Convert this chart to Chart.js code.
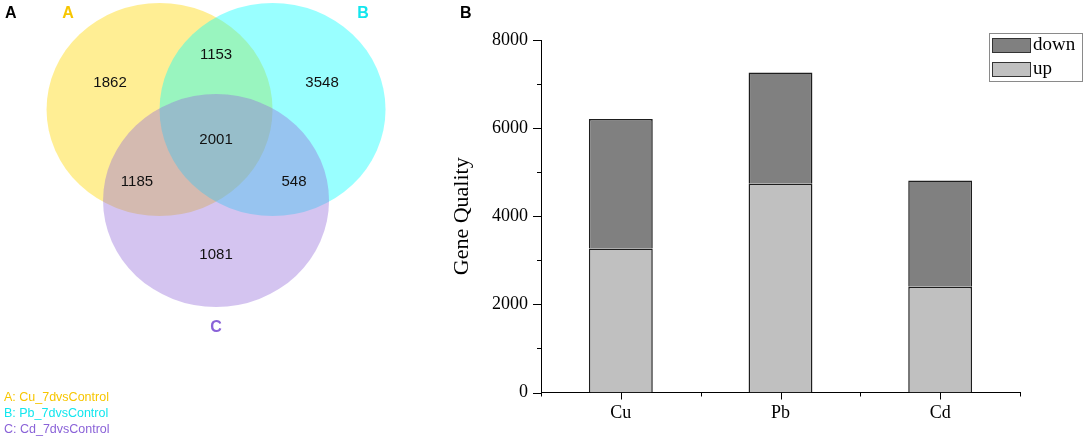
<!DOCTYPE html>
<html>
<head>
<meta charset="utf-8">
<title>Venn diagram and up/down gene counts</title>
<script src="https://cdn.jsdelivr.net/npm/chart.js@4.4.1/dist/chart.umd.min.js"></script>
<style>
  body { margin: 0; background: #fff; width: 1084px; height: 440px; position: relative; overflow: hidden; }
  .panel { position: absolute; top: 0; }
  .tag { position: absolute; font: bold 16px "Liberation Sans", Arial, sans-serif; color: #000; }
  .venn-key { position: absolute; left: 4px; font: 12.5px "Liberation Sans", Arial, sans-serif; line-height: 16px; }
</style>
</head>
<body>

<div class="panel" style="left:0;width:440px;height:440px;">
  <canvas id="vennChart" width="440" height="440"></canvas>
</div>
<div class="panel" style="left:440px;width:644px;height:440px;">
  <canvas id="barChart" width="644" height="440"></canvas>
</div>

<div class="tag" style="left:5px;top:4px;">A</div>
<div class="tag" style="left:460px;top:4px;">B</div>
<div id="vennKey" class="venn-key" style="top:389px;"></div>

<script>
/* ---- data ---- */
const vennSets = ['A', 'B', 'C'];
const vennSetNames = ['Cu_7dvsControl', 'Pb_7dvsControl', 'Cd_7dvsControl'];
const vennRegions = ['A only', 'A∩B', 'B only', 'A∩B∩C', 'A∩C', 'B∩C', 'C only'];
const vennCounts = [1862, 1153, 3548, 2001, 1185, 548, 1081];

const groups = ['Cu', 'Pb', 'Cd'];
const upCounts = [3270, 4735, 2400];
const downCounts = [2935, 2525, 2410];
const yTickValues = [0, 2000, 4000, 6000, 8000];

/* ---- venn layout (unit circles, equilateral) ---- */
const VENN = {
  centers: [[-0.5, 0], [0.5, 0], [0, -0.855]],
  radius: 1,
  fills: ['rgba(255,215,0,0.42)', 'rgba(0,255,255,0.40)', 'rgba(148,108,218,0.40)'],
  setColors: ['#f7c600', '#12e6ee', '#8a62d8'],
  setLabelPos: [[-1.31, 0.9], [1.30, 0.9], [0, -2.05]],
  regionPos: [[-0.938, 0.25], [0, 0.512], [0.938, 0.25], [0, -0.286], [-0.70, -0.683], [0.69, -0.683], [0, -1.366]]
};

document.getElementById('vennKey').innerHTML = vennSets.map((s, i) =>
  `<div style="color:${VENN.setColors[i]};">${s}: ${vennSetNames[i]}</div>`).join('');

const vennPlugin = {
  id: 'vennCircles',
  beforeDatasetsDraw(chart) {
    const { ctx, scales: { x, y } } = chart;
    ctx.save();
    VENN.centers.forEach((c, i) => {
      const px = x.getPixelForValue(c[0]), py = y.getPixelForValue(c[1]);
      const rx = Math.abs(x.getPixelForValue(c[0] + VENN.radius) - px);
      const ry = Math.abs(y.getPixelForValue(c[1] + VENN.radius) - py);
      ctx.beginPath();
      ctx.ellipse(px, py, rx, ry, 0, 0, Math.PI * 2);
      ctx.fillStyle = VENN.fills[i];
      ctx.fill();
    });
    ctx.restore();
  },
  afterDatasetsDraw(chart) {
    const { ctx, scales: { x, y } } = chart;
    ctx.save();
    ctx.textAlign = 'center';
    ctx.textBaseline = 'middle';
    // region counts, anchored on dataset points
    ctx.font = '15px "Liberation Sans", Arial, sans-serif';
    ctx.fillStyle = '#111';
    chart.getDatasetMeta(0).data.forEach((pt, i) => {
      ctx.fillText(String(vennCounts[i]), pt.x, pt.y);
    });
    // set letters
    ctx.font = 'bold 16px "Liberation Sans", Arial, sans-serif';
    vennSets.forEach((s, i) => {
      const p = VENN.setLabelPos[i];
      ctx.fillStyle = VENN.setColors[i];
      ctx.fillText(s, x.getPixelForValue(p[0]), y.getPixelForValue(p[1]));
    });
    ctx.restore();
  }
};

new Chart(document.getElementById('vennChart'), {
  type: 'scatter',
  data: {
    datasets: [{
      label: 'regions',
      data: VENN.regionPos.map((p, i) => ({ x: p[0], y: p[1], region: vennRegions[i] })),
      pointRadius: 0, pointHoverRadius: 0
    }]
  },
  options: {
    responsive: false, animation: false,
    layout: { padding: 0 },
    plugins: { legend: { display: false }, tooltip: { enabled: false } },
    scales: {
      x: { display: false, min: -1.912, max: 1.982 },
      y: { display: false, min: -3.103, max: 1.028 }
    }
  },
  plugins: [vennPlugin]
});

/* ---- bar chart: axis ticks + boxed legend ---- */
const SERIF = '"Liberation Serif", "Times New Roman", serif';

const axisTicksPlugin = {
  id: 'originTicks',
  afterDraw(chart) {
    const { ctx, scales: { x, y } } = chart;
    ctx.save();
    ctx.strokeStyle = '#000';
    ctx.lineWidth = 1;
    ctx.beginPath();
    y.ticks.forEach(t => {
      const py = Math.round(y.getPixelForValue(t.value)) + 0.5;
      const len = yTickValues.includes(t.value) ? 8 : 4;
      ctx.moveTo(y.right - len, py); ctx.lineTo(y.right, py);
    });
    const base = x.top;
    groups.forEach((g, i) => {
      const px = Math.round(x.getPixelForValue(i)) + 0.5;
      ctx.moveTo(px, base); ctx.lineTo(px, base + 7);
    });
    for (let i = 0; i <= groups.length; i++) {
      const px = Math.round(x.getPixelForValue(i - 0.5)) + 0.5;
      ctx.moveTo(px, base); ctx.lineTo(px, base + 4);
    }
    ctx.stroke();
    ctx.restore();
  }
};

const boxLegendPlugin = {
  id: 'boxLegend',
  afterDraw(chart) {
    const { ctx, chartArea } = chart;
    const left = chartArea.right - 31, top = chartArea.top - 7;
    const items = chart.data.datasets.slice().reverse();
    ctx.save();
    ctx.strokeStyle = '#8a8a8a';
    ctx.lineWidth = 1;
    ctx.strokeRect(left + 0.5, top + 0.5, 93, 48);
    ctx.font = '19px ' + SERIF;
    ctx.textBaseline = 'middle';
    items.forEach((ds, i) => {
      const sy = top + 5 + i * 24;
      ctx.fillStyle = ds.backgroundColor;
      ctx.fillRect(left + 3, sy, 39, 15);
      ctx.strokeStyle = '#333';
      ctx.strokeRect(left + 3.5, sy + 0.5, 38, 14);
      ctx.fillStyle = '#000';
      ctx.fillText(ds.label, left + 44, sy + 7);
    });
    ctx.restore();
  }
};

new Chart(document.getElementById('barChart'), {
  type: 'bar',
  data: {
    labels: groups,
    datasets: [
      { label: 'up', data: upCounts, backgroundColor: '#c0c0c0', borderColor: '#1e1e1e', borderWidth: 1.5, borderSkipped: 'start' },
      { label: 'down', data: downCounts, backgroundColor: '#808080', borderColor: '#1e1e1e', borderWidth: 1.5, borderSkipped: 'start' }
    ]
  },
  options: {
    responsive: false, animation: false,
    layout: { padding: { top: 40, right: 64, left: 0, bottom: 0 } },
    datasets: { bar: { categoryPercentage: 1, barPercentage: 0.4 } },
    plugins: { legend: { display: false }, tooltip: { enabled: false } },
    scales: {
      x: {
        stacked: true,
        grid: { display: false, drawTicks: false },
        border: { display: true, color: '#000', width: 1 },
        ticks: { color: '#000', font: { family: SERIF, size: 18 }, padding: 10 },
        afterFit: s => { s.height = 47.5; }
      },
      y: {
        stacked: true, min: 0, max: 8000,
        grid: { display: false, drawTicks: false },
        border: { display: true, color: '#000', width: 1 },
        ticks: {
          stepSize: 1000, autoSkip: false, color: '#000', padding: 13,
          font: { family: SERIF, size: 18 },
          callback: v => yTickValues.includes(v) ? String(v) : ''
        },
        title: { display: true, text: 'Gene Quality', color: '#000', font: { family: SERIF, size: 22 }, padding: { top: 9, bottom: 0 } },
        afterFit: s => { s.width = 101; }
      }
    }
  },
  plugins: [axisTicksPlugin, boxLegendPlugin]
});
</script>
</body>
</html>
